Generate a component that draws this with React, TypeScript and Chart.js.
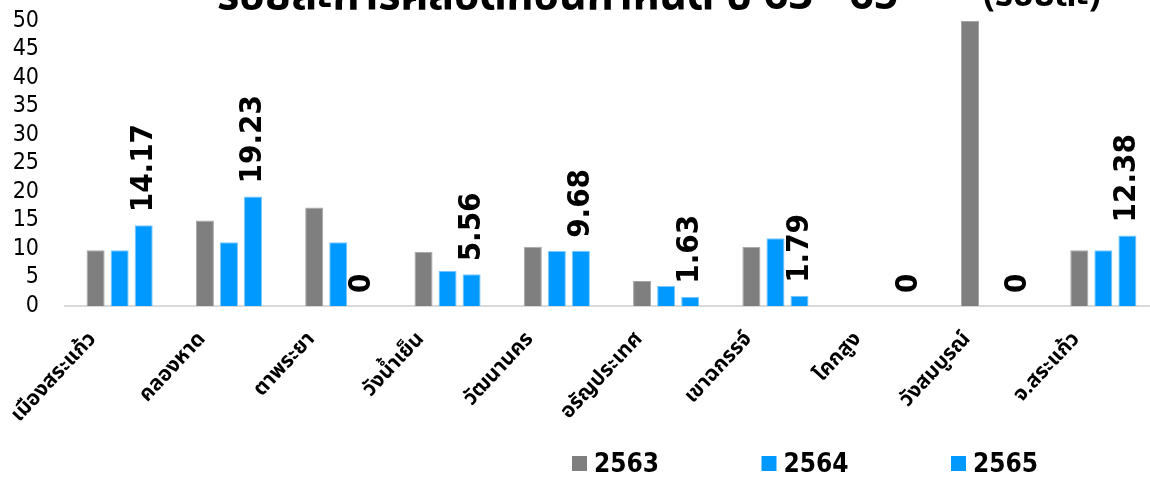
import React, { useEffect, useRef } from "react";
import { Chart, registerables } from "chart.js";

Chart.register(...registerables);

const categories = [
  "เมืองสระแก้ว",
  "คลองหาด",
  "ตาพระยา",
  "วังน้ำเย็น",
  "วัฒนานคร",
  "อรัญประเทศ",
  "เขาฉกรรจ์",
  "โคกสูง",
  "วังสมบูรณ์",
  "จ.สระแก้ว",
];
const seriesNames = ["2563", "2564", "2565"];
const values2563 = [9.8, 15.0, 17.3, 9.5, 10.4, 4.4, 10.4, 0, 50, 9.8];
const values2564 = [9.8, 11.2, 11.2, 6.2, 9.65, 3.5, 11.9, 0, 0, 9.8];
const values2565 = [14.17, 19.23, 0, 5.56, 9.68, 1.63, 1.79, 0, 0, 12.38];
const seriesColors = ["#7F7F7F", "#0099FF", "#0099FF"];
const yMin = 0;
const yMax = 50;
const yStep = 5;
const titleText = "ร้อยละการคลอดก่อนกำหนด ปี 63 - 65";
const unitText = "(ร้อยละ)";

const NUM_FONT = "'DejaVu Sans Condensed', 'DejaVu Sans', sans-serif";
const THAI_FONT = "Tahoma, 'Noto Sans Thai', Loma, Garuda, 'DejaVu Sans', sans-serif";

const valueLabelPlugin = {
  id: "valueLabels",
  afterDatasetsDraw(chart: any) {
    const meta = chart.getDatasetMeta(2);
    const ctx = chart.ctx;
    ctx.save();
    ctx.font = `bold 31px ${NUM_FONT}`;
    ctx.fillStyle = "#000";
    ctx.textAlign = "left";
    ctx.textBaseline = "middle";
    meta.data.forEach((el: any, i: number) => {
      ctx.save();
      ctx.translate(el.x, el.y - 13);
      ctx.rotate(-Math.PI / 2);
      ctx.fillText(String(values2565[i]), 0, 0);
      ctx.restore();
    });
    ctx.restore();
  },
};

const titleLegendPlugin = {
  id: "titleLegend",
  afterDraw(chart: any) {
    const ctx = chart.ctx;
    ctx.save();
    ctx.fillStyle = "#000";
    ctx.textBaseline = "alphabetic";
    ctx.textAlign = "left";
    ctx.font = `bold 43px ${THAI_FONT}`;
    ctx.fillText(titleText, 217, 9);
    ctx.font = `bold 35px ${THAI_FONT}`;
    ctx.fillText(unitText, 983, 6);

    // legend
    const startX = 572;
    const gap = 189.5;
    ctx.font = `bold 26px ${NUM_FONT}`;
    ctx.textBaseline = "middle";
    seriesNames.forEach((name, i) => {
      const x = startX + gap * i;
      ctx.fillStyle = seriesColors[i];
      ctx.fillRect(x, 456, 15, 15);
      ctx.fillStyle = "#000";
      ctx.fillText(name, x + 22, 465);
    });
    ctx.restore();
  },
};

export default function App() {
  const canvasRef = useRef<HTMLCanvasElement | null>(null);

  useEffect(() => {
    document.documentElement.style.overflow = "hidden";
    document.body.style.overflow = "hidden";
    const canvas = canvasRef.current;
    if (!canvas) return;
    const datasets = [values2563, values2564, values2565].map((vals, i) => ({
      label: seriesNames[i],
      data: vals,
      backgroundColor: seriesColors[i],
      borderColor: i === 0 ? "#A6A6A6" : "#7CC8FF",
      borderWidth: { top: 1, left: 1, right: 1, bottom: 0 },
      categoryPercentage: 0.66,
      barPercentage: 0.75,
    }));
    const chart = new Chart(canvas, {
      type: "bar",
      data: { labels: categories, datasets },
      plugins: [valueLabelPlugin, titleLegendPlugin],
      options: {
        animation: false,
        responsive: false,
        maintainAspectRatio: false,
        layout: { padding: { top: 21, right: 2, left: 0, bottom: 0 } },
        plugins: {
          legend: { display: false },
          title: { display: false },
          tooltip: { enabled: false },
        },
        scales: {
          x: {
            grid: { display: false, drawTicks: false },
            border: { display: true, color: "#D9D9D9", width: 2 },
            ticks: {
              color: "#000",
              font: { family: THAI_FONT, size: 21, weight: "bold" },
              maxRotation: 47,
              minRotation: 47,
              autoSkip: false,
              padding: 22,
              labelOffset: -26,
            },
            afterFit(scale: any) {
              scale.height = 172;
            },
          },
          y: {
            min: yMin,
            max: yMax,
            grid: { display: false, drawTicks: true, tickLength: 26 },
            border: { display: false },
            ticks: {
              stepSize: yStep,
              autoSkip: false,
              color: "#000",
              font: { family: NUM_FONT, size: 23 },
              padding: 0,
            },
            afterFit(scale: any) {
              scale.width = 65;
            },
          },
        },
      },
    });
    return () => chart.destroy();
  }, []);

  return (
    <div style={{ position: "fixed", left: 0, top: 0, width: 1160, height: 478 }}>
      <canvas ref={canvasRef} width={1160} height={478} style={{ width: 1160, height: 478, display: "block" }} />
    </div>
  );
}
